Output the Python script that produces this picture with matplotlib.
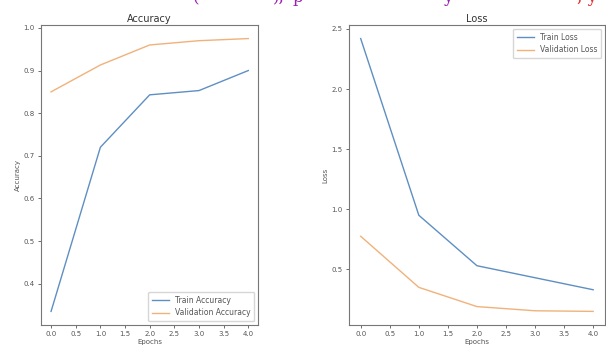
# plot.py
# Accuracy / Loss 학습곡선 재현

import matplotlib.pyplot as plt

OUT_PNG = "out.png"

epochs = [0, 1, 2, 3, 4]

train_acc = [0.335, 0.72, 0.843, 0.853, 0.90]
val_acc = [0.85, 0.913, 0.96, 0.97, 0.975]

train_loss = [2.42, 0.95, 0.53, 0.43, 0.33]
val_loss = [0.775, 0.35, 0.19, 0.155, 0.15]

acc_ticks = [0.4, 0.5, 0.6, 0.7, 0.8, 0.9, 1.0]
loss_ticks = [0.5, 1.0, 1.5, 2.0, 2.5]
x_ticks = [0.0, 0.5, 1.0, 1.5, 2.0, 2.5, 3.0, 3.5, 4.0]

# 위쪽에 잘려 보이는 본문 글자 조각 (x 위치는 그림 폭 비율)
top_frags = ["(", "),", "p", "y"]
top_frag_x = [0.318, 0.450, 0.483, 0.731]
red_frag = ", y"

TICK_FS = 5
LABEL_FS = 5
TITLE_FS = 7
LEGEND_FS = 5.5


def style_axes(ax, yticks):
    ax.set_xticks(x_ticks)
    ax.set_yticks(yticks)
    ax.tick_params(labelsize=TICK_FS, length=2.5, width=0.6, pad=2,
                   colors="#555555")
    for sp in ax.spines.values():
        sp.set_linewidth(0.8)
        sp.set_color("#777777")


fig = plt.figure(figsize=(6.06, 3.51), dpi=100)

for s, xf in zip(top_frags, top_frag_x):
    fig.text(xf, 1.006, s, color="#9b1fb0", fontsize=12,
             family="DejaVu Serif", va="center", ha="left")
fig.text(0.985, 1.006, red_frag, color="#e83030", fontsize=12,
         family="DejaVu Serif", va="center", ha="right")

# 1) Accuracy
ax1 = fig.add_axes([0.068, 0.074, 0.358, 0.855])
ax1.plot(epochs, train_acc, color="#5f8fc2", lw=1.0, label="Train Accuracy")
ax1.plot(epochs, val_acc, color="#f0b27a", lw=1.0, label="Validation Accuracy")
ax1.set_title("Accuracy", fontsize=TITLE_FS, pad=2, color="#333333")
ax1.set_xlabel("Epochs", fontsize=LABEL_FS, labelpad=1, color="#555555")
ax1.set_ylabel("Accuracy", fontsize=LABEL_FS, labelpad=2, color="#555555")
style_axes(ax1, acc_ticks)
ax1.legend(loc="lower right", fontsize=LEGEND_FS, frameon=True,
           handlelength=2.2, borderpad=0.5, labelcolor="#555555")

# 2) Loss
ax2 = fig.add_axes([0.576, 0.074, 0.422, 0.855])
ax2.plot(epochs, train_loss, color="#5f8fc2", lw=1.0, label="Train Loss")
ax2.plot(epochs, val_loss, color="#f0b27a", lw=1.0, label="Validation Loss")
ax2.set_title("Loss", fontsize=TITLE_FS, pad=2, color="#333333")
ax2.set_xlabel("Epochs", fontsize=LABEL_FS, labelpad=1, color="#555555")
ax2.set_ylabel("Loss", fontsize=LABEL_FS, labelpad=2, color="#555555")
style_axes(ax2, loss_ticks)
ax2.legend(loc="upper right", fontsize=LEGEND_FS, frameon=True,
           handlelength=2.2, borderpad=0.5, labelcolor="#555555")

fig.savefig(OUT_PNG, dpi=100)
plt.close(fig)
